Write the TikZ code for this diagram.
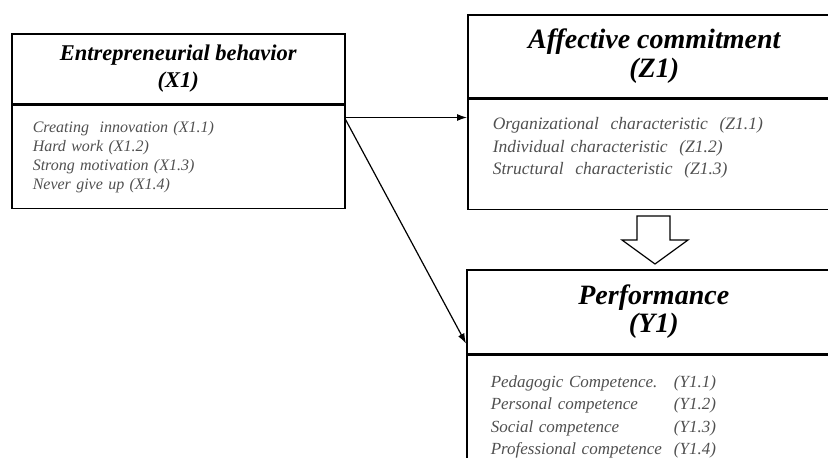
\documentclass[tikz,border=0pt]{standalone}
\usepackage{fontspec}
\setmainfont{Liberation Serif}
\usepackage{xcolor}
\usetikzlibrary{arrows.meta}
\usetikzlibrary{calc}
\definecolor{itemgray}{RGB}{80,80,80}

\begin{document}
\begin{tikzpicture}[x=1pt, y=-1pt, line width=1.5pt,
 headbox/.style={draw, anchor=north west, inner sep=0pt, align=center},
 listbox/.style={draw, anchor=north west, inner sep=0pt},
 itemtext/.style={anchor=base west, inner sep=0pt, align=left, text=itemgray},
 link/.style={-{Latex[length=10pt,width=7pt]}, line width=1.2pt}]

\useasboundingbox (0,0) rectangle (828,458);
\clip (0,0) rectangle (828,458);

%entrepreneurial behavior
\node[headbox, minimum width=333pt, minimum height=70pt,
 font=\fontsize{22.5}{27}\selectfont\bfseries\itshape] (xhead) at (11,33) {Entrepreneurial behavior\\(X1)};
\node[listbox, minimum width=333pt, minimum height=103pt] (xlist) at (xhead.south west) {};
\node[itemtext, text width=300pt, font=\fontsize{16}{19}\selectfont\itshape] (xitems)
 at ($(xlist.north west)+(21,28)$)
 {Creating~ innovation (X1.1)\\Hard work (X1.2)\\Strong motivation (X1.3)\\Never give up (X1.4)};

%affective commitment
\node[headbox, minimum width=373pt, minimum height=83pt,
 font=\fontsize{28}{29}\selectfont\bfseries\itshape] (zhead) at (467,14) {Affective commitment\\(Z1)};
\node[listbox, minimum width=373pt, minimum height=110pt] (zlist) at (zhead.south west) {};
\node[itemtext, text width=340pt, font=\fontsize{17.5}{22.5}\selectfont\itshape] (zitems)
 at ($(zlist.north west)+(25,31)$)
 {Organizational~ characteristic~ (Z1.1)\\Individual characteristic~ (Z1.2)\\Structural~ characteristic~ (Z1.3)};

%performance
\node[headbox, minimum width=374pt, minimum height=84pt,
 font=\fontsize{28}{28}\selectfont\bfseries\itshape] (phead) at (466,269) {Performance\\(Y1)};
\node[listbox, minimum width=374pt, minimum height=130pt] (plist) at (phead.south west) {};
\node[itemtext, text width=340pt, font=\fontsize{17}{22.3}\selectfont\itshape] (pitems)
 at ($(plist.north west)+(24,33)$)
 {\begin{tabular}[t]{@{}l@{\hspace{12pt}}l@{}}
 Pedagogic Competence. & (Y1.1)\\
 Personal competence & (Y1.2)\\
 Social competence & (Y1.3)\\
 Professional competence & (Y1.4)
 \end{tabular}};

%connectors
\coordinate (xout) at ($(xlist.north east)+(0,13)$);
\coordinate (pin) at ($(phead.south west)+(0,-11)$);
\draw[link] (xout) -- (xout -| zlist.west);
\draw[link] ($(xout)+(0,2)$) -- (pin);

%hollow arrow
\draw[line width=1.2pt, fill=white] (637,216) -- (670,216) -- (670,240) -- (688,240)
 -- (655,264) -- (622,240) -- (637,240) -- cycle;

\end{tikzpicture}
\end{document}
